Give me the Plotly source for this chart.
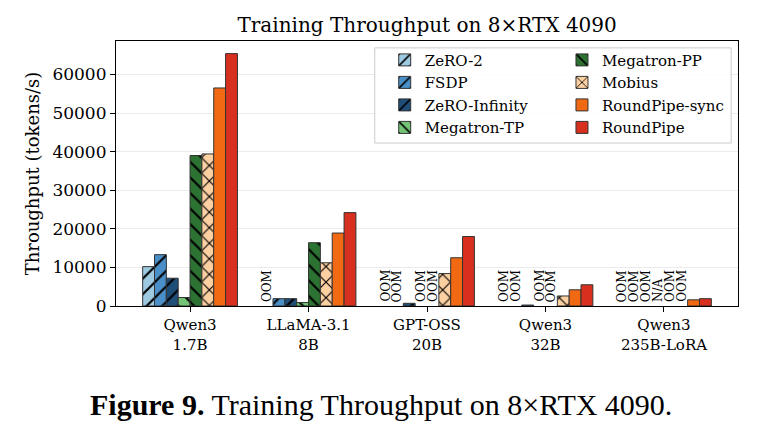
import plotly.graph_objects as go

models = ["Qwen3<br>1.7B", "LLaMA-3.1<br>8B", "GPT-OSS<br>20B", "Qwen3<br>32B", "Qwen3<br>235B-LoRA"]
methods = ["ZeRO-2", "FSDP", "ZeRO-Infinity", "Megatron-TP",
           "Megatron-PP", "Mobius", "RoundPipe-sync", "RoundPipe"]

# throughput values (tokens/s); None = not available
zero2 = [10200, None, None, None, None]
fsdp = [13300, 1900, None, None, None]
zero_inf = [7200, 1900, 700, 250, None]
meg_tp = [2200, 900, None, None, None]
meg_pp = [39000, 16400, None, None, None]
mobius = [39400, 11200, 8400, 2600, None]
rp_sync = [56500, 18900, 12500, 4200, 1600]
roundpipe = [65400, 24200, 18000, 5500, 1900]

# labels for missing entries
zero2_note = ["", "OOM", "OOM", "OOM", "OOM"]
fsdp_note = ["", "", "OOM", "OOM", "OOM"]
zero_inf_note = ["", "", "", "", "OOM"]
meg_tp_note = ["", "", "OOM", "OOM", "N/A"]
meg_pp_note = ["", "", "OOM", "OOM", "OOM"]
mobius_note = ["", "", "", "", "OOM"]
rp_sync_note = ["", "", "", "", ""]
roundpipe_note = ["", "", "", "", ""]

series = [zero2, fsdp, zero_inf, meg_tp, meg_pp, mobius, rp_sync, roundpipe]
notes = [zero2_note, fsdp_note, zero_inf_note, meg_tp_note, meg_pp_note,
         mobius_note, rp_sync_note, roundpipe_note]
colors = ["#9ecae1", "#4a8fc8", "#1f4e79", "#74c476",
          "#2c7232", "#fdd0a2", "#f16913", "#d7301f"]
hatches = ["/", "/", "/", "\\", "\\", "x", "", ""]

FONT = "DejaVu Serif"
n = len(methods)
bw = 0.1
xs = list(range(len(models)))

fig = go.Figure()
annotations = []
for i, (name, vals, note, col, h) in enumerate(zip(methods, series, notes, colors, hatches)):
    off = -bw * n / 2 + i * bw
    marker = dict(color=col, line=dict(color="#333333", width=1))
    if h:
        marker["pattern"] = dict(shape=h, fgcolor="black", bgcolor=col,
                                 size=11, solidity=0.2, fillmode="replace")
    fig.add_trace(go.Bar(
        x=xs, y=vals, name=name, width=bw, offset=off, marker=marker,
        legend="legend" if i < 4 else "legend2",
    ))
    for j, t in enumerate(note):
        if t:
            annotations.append(dict(
                x=xs[j] + off + bw / 2, y=0, xref="x", yref="y", text=t,
                textangle=-90, showarrow=False, xanchor="center", yanchor="bottom",
                yshift=2, font=dict(family=FONT, size=12, color="black")))

annotations.append(dict(
    x=0.426, y=-0.37, xref="paper", yref="paper", xanchor="center", yanchor="middle",
    showarrow=False,
    text="<b>Figure 9.</b> Training Throughput on 8×RTX 4090.",
    font=dict(family="Liberation Serif", size=30, color="black")))

fig.update_layout(
    width=758, height=433,
    margin=dict(l=116, r=20, t=41, b=127),
    paper_bgcolor="white", plot_bgcolor="white",
    barmode="overlay",
    font=dict(family=FONT, color="black"),
    title=dict(text="Training Throughput on 8×RTX 4090", x=0.5635, xanchor="center",
               y=0.942, yanchor="middle", font=dict(family=FONT, size=20, color="black")),
    xaxis=dict(range=[-0.625, 4.625], tickvals=xs, ticktext=models,
               showline=True, linecolor="black", linewidth=1.2, mirror=True,
               ticks="outside", ticklen=5, tickcolor="black", showgrid=False,
               tickfont=dict(family=FONT, size=15, color="black")),
    yaxis=dict(range=[0, 68670], dtick=10000, tickformat="d",
               showline=True, linecolor="black", linewidth=1.2, mirror=True,
               ticks="outside", ticklen=5, tickcolor="black",
               showgrid=True, gridcolor="#ebebeb", gridwidth=1, zeroline=False,
               tickfont=dict(family=FONT, size=17, color="black"),
               title=dict(text="Throughput (tokens/s)", standoff=8,
                          font=dict(family=FONT, size=18, color="black"))),
    legend=dict(x=0.432, y=0.99, xanchor="left", yanchor="top",
                bgcolor="rgba(0,0,0,0)", font=dict(family=FONT, size=15),
                tracegroupgap=0, itemwidth=30),
    legend2=dict(x=0.717, y=0.99, xanchor="left", yanchor="top",
                 bgcolor="rgba(0,0,0,0)", font=dict(family=FONT, size=15),
                 tracegroupgap=0, itemwidth=30),
    shapes=[dict(type="rect", xref="paper", yref="paper", x0=0.416, x1=0.989,
                 y0=0.615, y1=0.974, line=dict(color="#cccccc", width=1),
                 fillcolor="rgba(255,255,255,0.85)", layer="above")],
    annotations=annotations,
)

fig.write_html("out.html")
